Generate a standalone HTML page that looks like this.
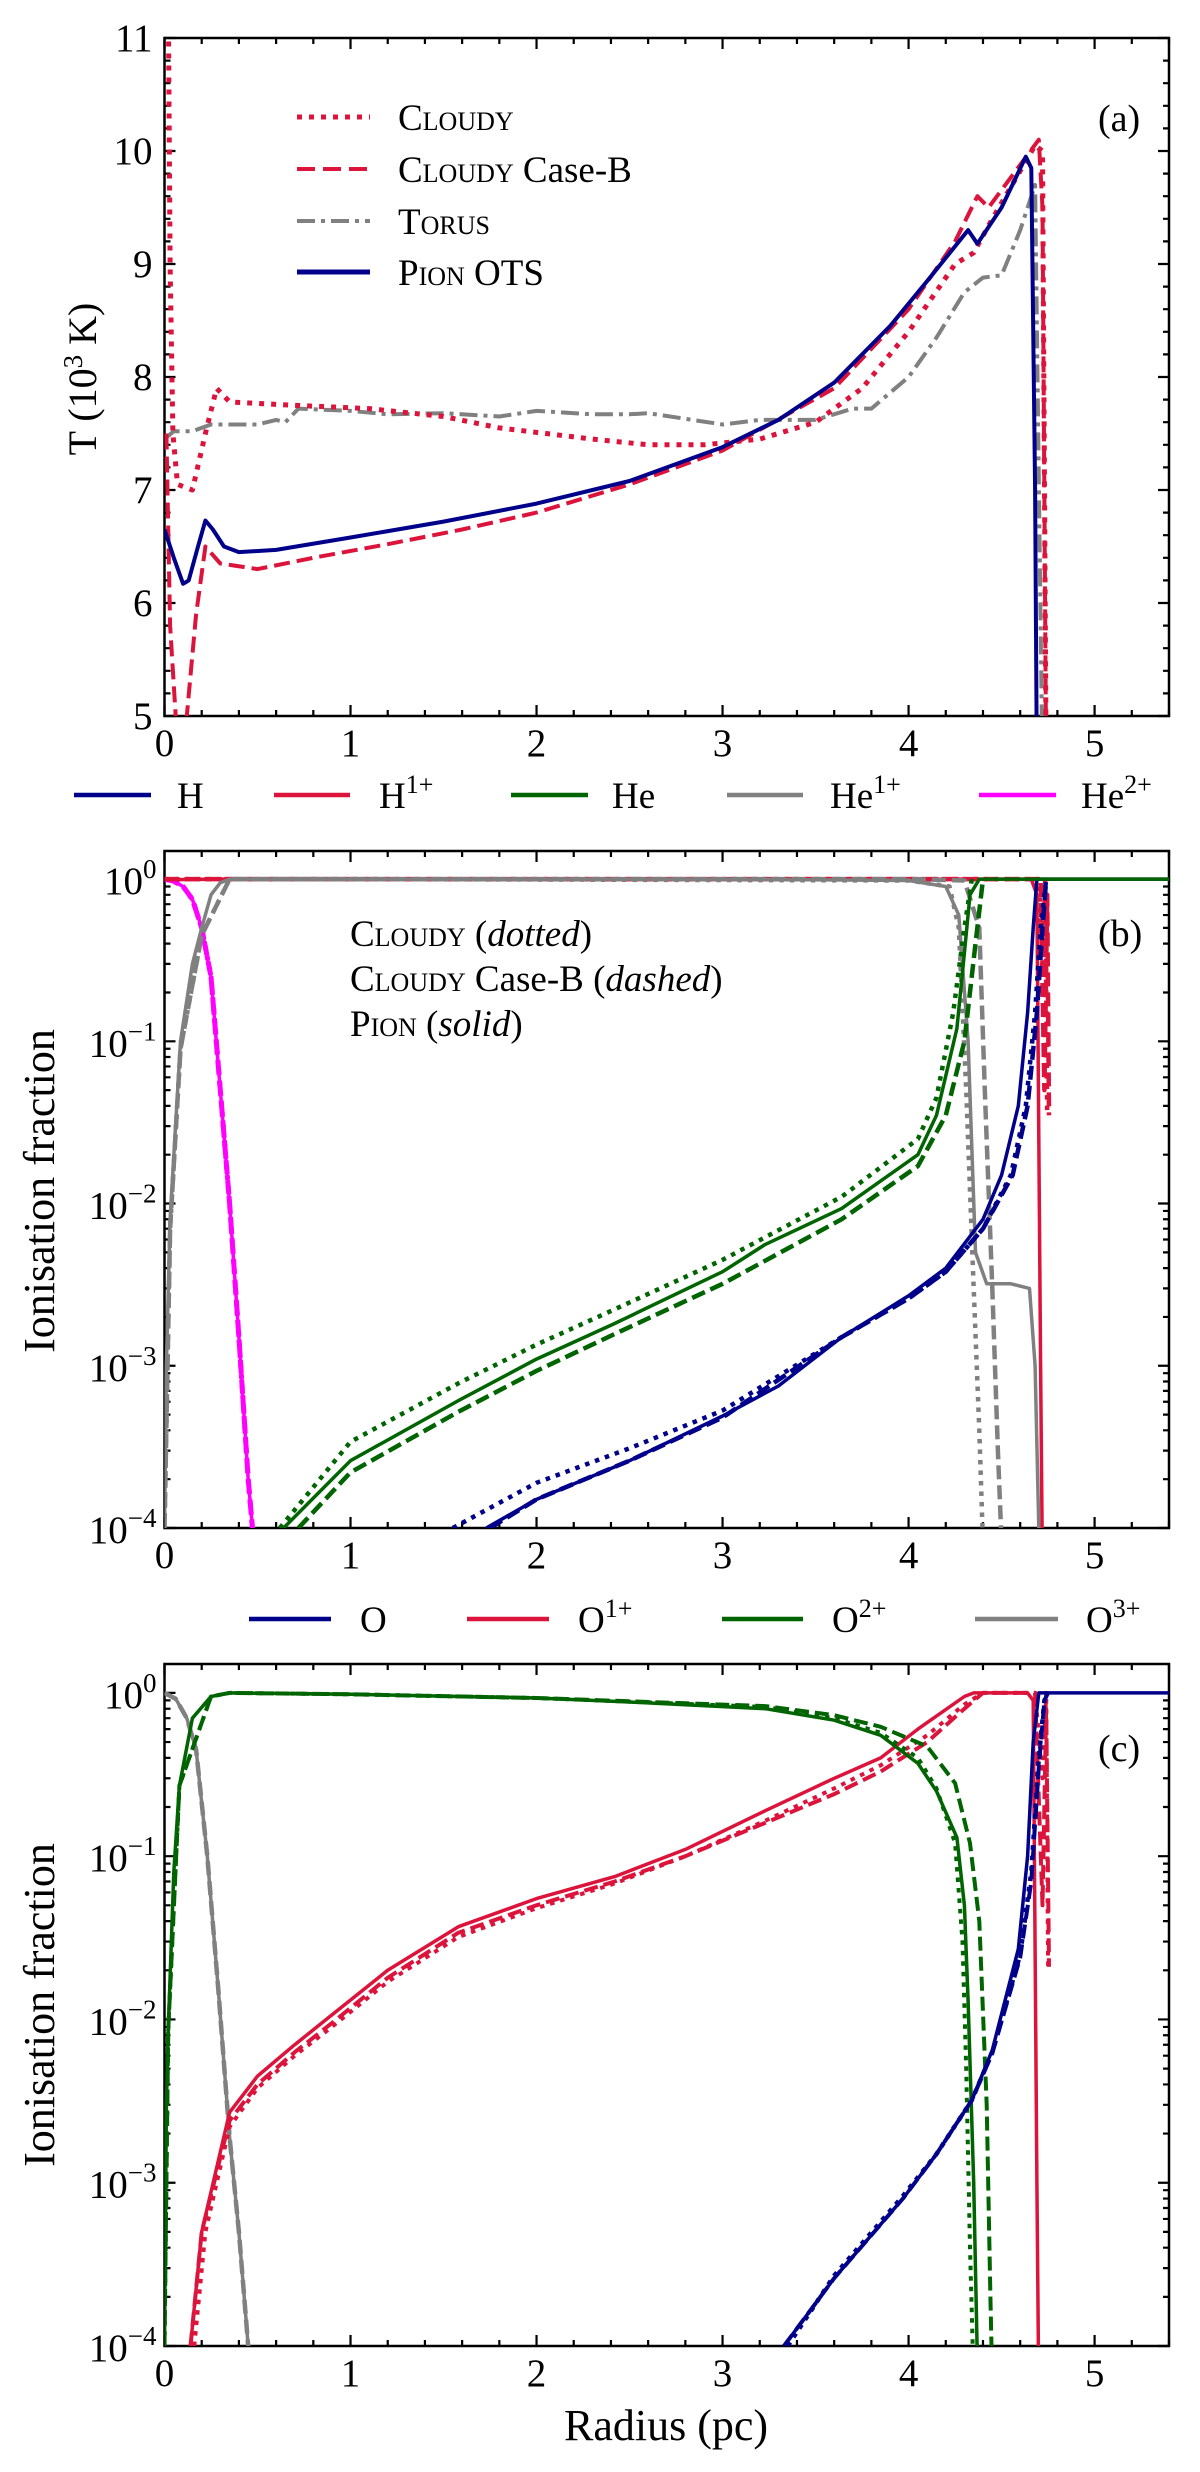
<!DOCTYPE html>
<html><head><meta charset="utf-8">
<style>
html,body{margin:0;padding:0;background:#fff;}
svg{display:block;font-family:"Liberation Serif","DejaVu Serif",serif;}
.sc{font-variant:small-caps;}
</style></head>
<body>
<svg id="fig" width="1200" height="2472" viewBox="0 0 1200 2472" xmlns="http://www.w3.org/2000/svg">
<defs>
<clipPath id="clipA"><rect x="164.5" y="38" width="1004.5" height="678"/></clipPath>
<clipPath id="clipB"><rect x="164.5" y="851" width="1004.5" height="677"/></clipPath>
<clipPath id="clipC"><rect x="164.5" y="1664" width="1004.5" height="682"/></clipPath>
</defs>
<g id="gA"></g>
<g id="gB"></g>
<g id="gC"></g>

<g>
<line x1="297" y1="117" x2="370" y2="117" stroke="#DC143C" stroke-width="5" stroke-dasharray="5 7"/>
<text x="398" y="130" font-size="37"><tspan class="sc">Cloudy</tspan></text>
<line x1="297" y1="169" x2="370" y2="169" stroke="#DC143C" stroke-width="4" stroke-dasharray="18 8"/>
<text x="398" y="182" font-size="37"><tspan class="sc">Cloudy</tspan> Case-B</text>
<line x1="297" y1="221" x2="370" y2="221" stroke="#808080" stroke-width="4" stroke-dasharray="18 6 4 6"/>
<text x="398" y="234" font-size="37"><tspan class="sc">Torus</tspan></text>
<line x1="297" y1="272" x2="370" y2="272" stroke="#00008B" stroke-width="5"/>
<text x="398" y="285" font-size="37"><tspan class="sc">Pion</tspan> OTS</text>
</g>
<text x="1098" y="131" font-size="38">(a)</text>

<g font-size="37">
<line x1="74" y1="795" x2="151" y2="795" stroke="#00008B" stroke-width="4.5"/><text x="177" y="808">H</text>
<line x1="274" y1="795" x2="350" y2="795" stroke="#DC143C" stroke-width="4.5"/><text x="379" y="808">H<tspan dy="-15" font-size="26">1+</tspan></text>
<line x1="511" y1="795" x2="588" y2="795" stroke="#006400" stroke-width="4.5"/><text x="612" y="808">He</text>
<line x1="727" y1="795" x2="803" y2="795" stroke="#808080" stroke-width="4.5"/><text x="830" y="808">He<tspan dy="-15" font-size="26">1+</tspan></text>
<line x1="979" y1="795" x2="1056" y2="795" stroke="#FF00FF" stroke-width="4.5"/><text x="1081" y="808">He<tspan dy="-15" font-size="26">2+</tspan></text>
</g>
<g font-size="37">
<text x="350" y="946"><tspan class="sc">Cloudy</tspan> (<tspan font-style="italic">dotted</tspan>)</text>
<text x="350" y="991"><tspan class="sc">Cloudy</tspan> Case-B (<tspan font-style="italic">dashed</tspan>)</text>
<text x="350" y="1036"><tspan class="sc">Pion</tspan> (<tspan font-style="italic">solid</tspan>)</text>
</g>
<text x="1098" y="946" font-size="38">(b)</text>

<g font-size="37">
<line x1="249" y1="1619" x2="331" y2="1619" stroke="#00008B" stroke-width="4.5"/><text x="360" y="1632">O</text>
<line x1="467" y1="1619" x2="549" y2="1619" stroke="#DC143C" stroke-width="4.5"/><text x="578" y="1632">O<tspan dy="-15" font-size="26">1+</tspan></text>
<line x1="722" y1="1619" x2="803" y2="1619" stroke="#006400" stroke-width="4.5"/><text x="832" y="1632">O<tspan dy="-15" font-size="26">2+</tspan></text>
<line x1="975" y1="1619" x2="1058" y2="1619" stroke="#808080" stroke-width="4.5"/><text x="1086" y="1632">O<tspan dy="-15" font-size="26">3+</tspan></text>
</g>
<text x="1098" y="1761" font-size="38">(c)</text>

<text transform="translate(96,379) rotate(-90)" text-anchor="middle" font-size="40">T (10<tspan dy="-14" font-size="27">3</tspan><tspan dy="14"> K)</tspan></text>
<text transform="translate(54,1191) rotate(-90)" text-anchor="middle" font-size="44">Ionisation fraction</text>
<text transform="translate(54,2005) rotate(-90)" text-anchor="middle" font-size="44">Ionisation fraction</text>
<text x="666" y="2440" text-anchor="middle" font-size="44">Radius (pc)</text>
</svg>
<script>
const aPionX=[0,0.05,0.1,0.13,0.18,0.22,0.26,0.32,0.4,0.6,1,1.5,2,2.5,3,3.3,3.6,3.9,4.1,4.32,4.37,4.5,4.63,4.66,4.68,4.69];
const aPionT=[6.65,6.4,6.17,6.2,6.5,6.73,6.65,6.5,6.45,6.47,6.58,6.72,6.88,7.08,7.38,7.62,7.95,8.45,8.85,9.3,9.18,9.5,9.95,9.85,7,4.5];
const aCloudyX=[0.02,0.03,0.045,0.07,0.15,0.22,0.28,0.35,0.7,1.1,1.5,1.8,2.3,2.6,2.9,3.2,3.5,3.75,4.0,4.25,4.35,4.45,4.68,4.72,4.74];
const aCloudyT=[11.5,9,7.5,7.05,7.0,7.5,7.9,7.78,7.75,7.72,7.65,7.55,7.45,7.4,7.4,7.45,7.6,7.9,8.4,9.0,9.1,9.4,10.05,10.0,4.5];
const aCaseBX=[0.01,0.03,0.06,0.09,0.12,0.17,0.22,0.3,0.5,0.8,1.2,1.6,2.0,2.5,3.0,3.6,4.0,4.25,4.37,4.43,4.7,4.72,4.74];
const aCaseBT=[7.5,5.8,5.0,4.5,5.0,5.9,6.5,6.35,6.3,6.4,6.52,6.65,6.8,7.05,7.35,7.9,8.6,9.2,9.6,9.5,10.1,9.5,4.5];
const aTorusX=[0,0.05,0.15,0.25,0.5,0.6,0.65,0.72,1,1.2,1.5,1.8,2.0,2.3,2.5,2.6,2.8,3.0,3.2,3.5,3.7,3.8,4.0,4.15,4.3,4.4,4.5,4.6,4.68,4.72];
const aTorusT=[7.45,7.52,7.52,7.58,7.58,7.62,7.6,7.72,7.7,7.67,7.68,7.65,7.7,7.67,7.67,7.68,7.63,7.58,7.62,7.62,7.72,7.72,8.0,8.35,8.75,8.88,8.9,9.3,9.7,4.5];

const bHe2X=[0,0.05,0.1,0.15,0.2,0.25,0.3,0.35,0.4,0.45,0.48];
const bHe2Y=[1,0.97,0.9,0.75,0.5,0.25,0.05,0.01,1.5e-3,2e-4,8e-5];
const bHe1X=[0,0.01,0.03,0.086,0.15,0.2,0.25,0.3,0.35,1,2,3,4,4.2,4.27,4.32,4.36,4.42,4.55,4.65,4.68,4.7,4.72];
const bHe1Y=[1e-4,1e-3,8e-3,0.1,0.3,0.5,0.8,0.95,1,1,1,1,0.98,0.9,0.6,0.1,5e-3,3.2e-3,3.2e-3,3e-3,1e-3,1e-4,5e-5];
const bHe1DotX=[0,0.03,0.086,0.2,0.35,1,4,4.22,4.27,4.31,4.35,4.38,4.4];
const bHe1DotY=[1e-4,7e-3,0.09,0.45,1,1,0.98,0.9,0.5,0.05,3e-3,4e-4,8e-5];
const bHe1DashX=[0,0.03,0.086,0.2,0.35,1,4,4.3,4.38,4.41,4.45,4.48,4.5];
const bHe1DashY=[1e-4,7e-3,0.09,0.45,1,1,1,0.98,0.5,0.05,3e-3,3e-4,8e-5];
const bH1X=[0,0.3,1,4.66,4.69,4.71,4.72];
const bH1Y=[0.99,1,1,1,0.8,1e-3,5e-5];
const bH1DotX=[0,0.3,4.7,4.72,4.735,4.745];
const bH1DotY=[1,1,1,0.3,1,0.035];
const bH1DashX=[0,0.3,4.71,4.73,4.745,4.755];
const bH1DashY=[1,1,1,0.05,0.8,0.035];
const bHX=[1.73,2.0,2.5,3,3.3,3.64,4.0,4.2,4.4,4.5,4.59,4.64,4.67,4.69,5.4];
const bHY=[1e-4,1.5e-4,2.6e-4,4.9e-4,7.5e-4,1.5e-3,2.7e-3,4e-3,8e-3,0.015,0.04,0.15,0.5,1,1];
const bHDotX=[1.55,2.0,2.5,3,3.64,4.0,4.2,4.4,4.55,4.63,4.68,4.71,4.74];
const bHDotY=[1e-4,1.9e-4,3.1e-4,5.3e-4,1.5e-3,2.6e-3,3.8e-3,7e-3,0.015,0.04,0.15,0.5,1];
const bHDashX=[1.75,2.0,2.5,3,3.64,4.0,4.2,4.4,4.56,4.64,4.69,4.72,4.74];
const bHDashY=[1e-4,1.5e-4,2.6e-4,4.8e-4,1.5e-3,2.6e-3,3.8e-3,7e-3,0.015,0.04,0.15,0.5,1];
const bHeX=[0.64,1,1.58,2,2.41,3,3.23,3.64,4.05,4.15,4.26,4.3,4.33,4.38,5.4];
const bHeY=[1e-4,2.6e-4,6.1e-4,1.1e-3,1.8e-3,3.8e-3,5.6e-3,9.3e-3,0.02,0.035,0.12,0.35,0.8,1,1];
const bHeDotX=[0.62,1,1.58,2,2.41,3,3.64,4.05,4.15,4.24,4.3,4.34];
const bHeDotY=[1e-4,3.4e-4,7.8e-4,1.35e-3,2.2e-3,4.5e-3,0.011,0.025,0.045,0.15,0.5,1];
const bHeDashX=[0.72,1,1.58,2,2.41,3,3.64,4.05,4.2,4.3,4.36,4.4];
const bHeDashY=[1e-4,2.2e-4,5.2e-4,9.3e-4,1.55e-3,3.2e-3,8e-3,0.017,0.035,0.1,0.4,1];

const cO3X=[0,0.06,0.12,0.17,0.23,0.29,0.35,0.4,0.45,0.47];
const cO3Y=[1,0.92,0.7,0.45,0.1,0.015,1.9e-3,5e-4,1e-4,6e-5];
const cO2X=[0,0.01,0.02,0.05,0.08,0.15,0.25,0.35,1,2,2.5,3.23,3.6,3.85,4.05,4.15,4.26,4.3,4.32,4.35,4.37];
const cO2Y=[1e-4,3e-3,8.5e-3,0.08,0.27,0.7,0.95,1,0.98,0.93,0.88,0.8,0.68,0.55,0.37,0.25,0.13,0.05,0.013,1e-3,8e-5];
const cO2DotX=[0,0.02,0.08,0.25,0.35,1,2,3.23,3.6,3.85,4.05,4.15,4.25,4.29,4.31,4.33,4.35];
const cO2DotY=[1e-4,8.5e-3,0.27,0.95,1,0.98,0.93,0.82,0.7,0.57,0.4,0.26,0.12,0.03,5e-3,4e-4,6e-5];
const cO2DashX=[0,0.02,0.08,0.25,0.35,1,2,3.23,3.6,3.85,4.1,4.25,4.33,4.38,4.42,4.44,4.45];
const cO2DashY=[1e-4,8.5e-3,0.27,0.95,1,0.98,0.93,0.83,0.73,0.62,0.47,0.28,0.12,0.04,3e-3,2e-4,6e-5];
const cO1X=[0.14,0.2,0.35,0.5,0.7,0.87,1.2,1.58,2.0,2.42,2.8,3.23,3.6,3.85,4.05,4.3,4.35,4.64,4.67,4.69,4.7];
const cO1Y=[1e-4,5e-4,2.7e-3,4.5e-3,7e-3,0.01,0.02,0.037,0.055,0.075,0.11,0.19,0.3,0.4,0.6,0.95,1,1,0.9,1e-3,5e-5];
const cO1DotX=[0.16,0.22,0.35,0.5,0.7,0.9,1.2,1.58,2.0,2.42,2.8,3.23,3.6,3.85,4.1,4.3,4.4,4.68,4.72,4.74,4.75];
const cO1DotY=[1e-4,5e-4,2.2e-3,3.8e-3,6e-3,9e-3,0.017,0.032,0.048,0.068,0.1,0.165,0.26,0.36,0.55,0.85,1,1,0.3,1,0.021];
const cO1DashX=[0.14,0.2,0.35,0.5,0.7,0.9,1.2,1.58,2.0,2.42,2.8,3.23,3.6,3.85,4.1,4.3,4.4,4.68,4.72,4.74,4.755];
const cO1DashY=[1e-4,5e-4,2.4e-3,4e-3,6.3e-3,9.5e-3,0.018,0.034,0.05,0.07,0.1,0.16,0.24,0.33,0.5,0.8,1,1,0.05,0.8,0.021];
const cOX=[3.33,3.6,3.97,4.15,4.34,4.45,4.59,4.64,4.67,4.7,5.4];
const cOY=[1e-4,2.6e-4,8e-4,1.5e-3,3.2e-3,6.5e-3,0.027,0.1,0.5,1,1];
const cODotX=[3.35,3.6,3.97,4.15,4.34,4.45,4.6,4.66,4.7,4.73,4.75];
const cODotY=[1e-4,2.7e-4,8.3e-4,1.5e-3,3.2e-3,6.3e-3,0.025,0.08,0.4,0.9,1];
const cODashX=[3.33,3.6,3.97,4.15,4.34,4.45,4.6,4.66,4.7,4.73,4.75];
const cODashY=[1e-4,2.6e-4,8e-4,1.5e-3,3.2e-3,6.2e-3,0.024,0.07,0.35,0.9,1];

const xTicks=[0,1,2,3,4,5];
const aYTicks=[5,6,7,8,9,10,11];
const logTicks=[-4,-3,-2,-1,0];

const NS="http://www.w3.org/2000/svg";
const L=164.5,R=1169,XMAX=5.4;
const PA={top:38,bot:716,log:false,ymin:5,ymax:11,clip:"clipA",g:"gA"};
const PB={top:851,bot:1528,log:true,ymin:-4,ymax:0.173,clip:"clipB",g:"gB"};
const PC={top:1664,bot:2346,log:true,ymin:-4,ymax:0.177,clip:"clipC",g:"gC"};
function sx(v){return L+(R-L)*v/XMAX;}
function sy(P,v){const t=P.log?Math.log10(Math.max(v,1e-9)):v;return P.bot-(P.bot-P.top)*(t-P.ymin)/(P.ymax-P.ymin);}
function mk(tag,attrs){const e=document.createElementNS(NS,tag);for(const k in attrs)e.setAttribute(k,attrs[k]);return e;}

function series(P,xs,ys,color,w,dash,name){
  let d="";
  for(let i=0;i<xs.length;i++){d+=(i?"L":"M")+sx(xs[i]).toFixed(1)+","+sy(P,ys[i]).toFixed(1);}
  const p=mk("path",{d:d,fill:"none",stroke:color,"stroke-width":w,"stroke-linejoin":"round","clip-path":"url(#"+P.clip+")"});
  if(dash)p.setAttribute("stroke-dasharray",dash);
  
  
  document.getElementById(P.g).appendChild(p);
}

function axes(P,panel){
  const g=document.getElementById(P.g);
  const fr=mk("rect",{x:L,y:P.top,width:R-L,height:P.bot-P.top,fill:"none",stroke:"#000","stroke-width":2.5});
  
  
  g.appendChild(fr);
  let d="";
  for(let i=0;i<=27;i++){const v=i*0.2;const x=sx(v);const len=(Math.abs(v-Math.round(v))<1e-6)?11:6;
    d+="M"+x+","+P.bot+"v"+(-len)+"M"+x+","+P.top+"v"+len;}
  if(!P.log){for(let i=0;i<=30;i++){const v=5+i*0.2;const y=sy(P,v);const len=(i%5==0)?11:6;d+="M"+L+","+y+"h"+len+"M"+R+","+y+"h"+(-len);}}
  else{for(let e=-4;e<=0;e++){for(let m=1;m<10;m++){const v=m*Math.pow(10,e);const t=Math.log10(v);if(t>P.ymax)continue;const y=sy(P,v);const len=m==1?11:6;d+="M"+L+","+y+"h"+len+"M"+R+","+y+"h"+(-len);}}}
  const tk=mk("path",{d:d,stroke:"#000","stroke-width":2.2,fill:"none"});
  
  
  g.appendChild(tk);
  xTicks.forEach(v=>{const t=mk("text",{x:sx(v),y:P.bot+40,"text-anchor":"middle","font-size":39});t.textContent=String(v);
    
    
    g.appendChild(t);});
  if(!P.log){aYTicks.forEach(v=>{const t=mk("text",{x:L-12,y:sy(P,v)+13,"text-anchor":"end","font-size":39});t.textContent=String(v);
    
    
    g.appendChild(t);});}
  else{logTicks.forEach(e=>{const t=mk("text",{x:L-8,y:sy(P,Math.pow(10,e))+15,"text-anchor":"end","font-size":39});
    t.appendChild(document.createTextNode("10"));
    const s=mk("tspan",{dy:-16,"font-size":27});s.textContent=(e<0?"\u2212"+(-e):"0");t.appendChild(s);
    
    
    g.appendChild(t);});}
}
axes(PA,"a");axes(PB,"b");axes(PC,"c");

const BL="#00008B",RD="#DC143C",GR="#006400",GY="#808080",MG="#FF00FF";
const DOT="5 7",DASH="16 7",DOTb="4.5 6",DASHb="14 6";
series(PA,aTorusX,aTorusT,GY,4,"18 6 4 6","torus-temperature");
series(PA,aCloudyX,aCloudyT,RD,5,DOT,"cloudy-temperature");
series(PA,aCaseBX,aCaseBT,RD,4,DASH,"cloudy-caseb-temperature");
series(PA,aPionX,aPionT,BL,4,null,"pion-temperature");

series(PB,bHe2X,bHe2Y,MG,5,DOTb,"he2-cloudy");
series(PB,bHe2X,bHe2Y,MG,5,DASHb,"he2-caseb");
series(PB,bHe2X,bHe2Y,MG,3.5,null,"he2-pion");
series(PB,bH1DotX,bH1DotY,RD,4.5,DOTb,"h1-cloudy");
series(PB,bH1DashX,bH1DashY,RD,4.5,DASHb,"h1-caseb");
series(PB,bH1X,bH1Y,RD,3.5,null,"h1-pion");
series(PB,bHe1DotX,bHe1DotY,GY,4.5,DOTb,"he1-cloudy");
series(PB,bHe1DashX,bHe1DashY,GY,4.5,DASHb,"he1-caseb");
series(PB,bHe1X,bHe1Y,GY,3.5,null,"he1-pion");
series(PB,bHDotX,bHDotY,BL,4.5,DOTb,"h-cloudy");
series(PB,bHDashX,bHDashY,BL,4.5,DASHb,"h-caseb");
series(PB,bHX,bHY,BL,3.5,null,"h-pion");
series(PB,bHeDotX,bHeDotY,GR,4.5,DOTb,"he-cloudy");
series(PB,bHeDashX,bHeDashY,GR,4.5,DASHb,"he-caseb");
series(PB,bHeX,bHeY,GR,3.5,null,"he-pion");

series(PC,cO3X,cO3Y,GY,4.5,DASHb,"o3-caseb");
series(PC,cO3X,cO3Y,GY,3.5,null,"o3-pion");
series(PC,cO1DotX,cO1DotY,RD,4,DOTb,"o1-cloudy");
series(PC,cO1DashX,cO1DashY,RD,4,DASHb,"o1-caseb");
series(PC,cO1X,cO1Y,RD,3.5,null,"o1-pion");
series(PC,cO2DotX,cO2DotY,GR,4,DOTb,"o2-cloudy");
series(PC,cO2DashX,cO2DashY,GR,4,DASHb,"o2-caseb");
series(PC,cO2X,cO2Y,GR,3.5,null,"o2-pion");
series(PC,cODotX,cODotY,BL,4.5,DOTb,"o-cloudy");
series(PC,cODashX,cODashY,BL,4,DASHb,"o-caseb");
series(PC,cOX,cOY,BL,3.5,null,"o-pion");
</script>
</body></html>
